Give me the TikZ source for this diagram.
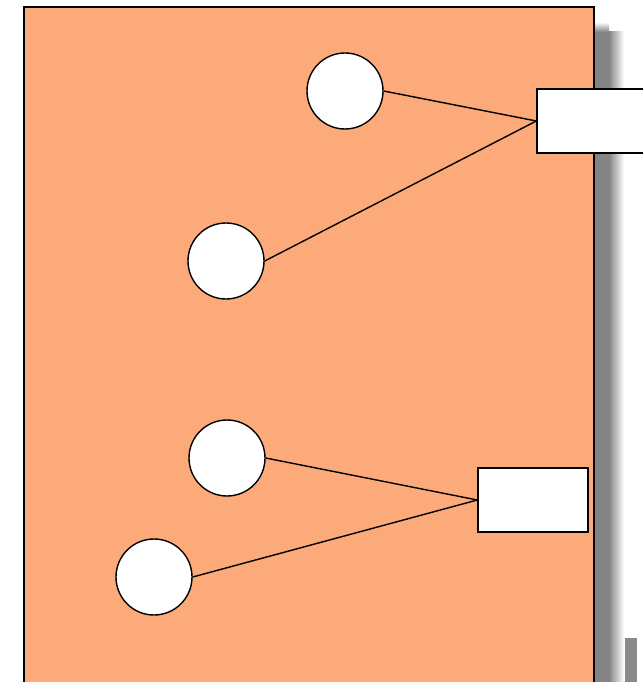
\documentclass[tikz,border=0pt]{standalone}
\usetikzlibrary{calc}
\definecolor{panel}{RGB}{252,170,122}
\definecolor{shadowgray}{RGB}{132,132,132}
\tikzset{
  px/.style={x=1pt,y=-1pt},
  ball/.style={circle,draw=black,fill=white,line width=1.4pt,minimum size=76pt,inner sep=0pt},
  port/.style={rectangle,draw=black,fill=white,line width=1.4pt,inner sep=0pt},
  link/.style={draw=black,line width=1.4pt},
}
\begin{document}
\begin{tikzpicture}[px]
\useasboundingbox (0,0) rectangle (642,682);
\fill[white] (0,0) rectangle (642,682);
% shadow
\fill[shadowgray] (594,32) rectangle (609,700);
\shade[left color=shadowgray,right color=white] (609,32) rectangle (624,700);
\shade[top color=white,bottom color=shadowgray] (594,22) rectangle (609,32);
\fill[shadowgray!95] (625,638) rectangle (637,700);
% panel
\filldraw[fill=panel,draw=black,line width=1.4pt] (24,7) rectangle (594,700);
% nodes
\node[ball] (c1) at (345,91) {};
\node[ball] (c2) at (226,261) {};
\node[ball] (c3) at (227,458) {};
\node[ball] (c4) at (154,577) {};
\node[port,minimum width=120pt,minimum height=64pt] (b1) at (597,121) {};
\node[port,minimum width=110pt,minimum height=64pt] (b2) at (533,500) {};
% links
\draw[link] (c1.east) -- (b1.west);
\draw[link] (c2.east) -- (b1.west);
\draw[link] (c3.east) -- (b2.west);
\draw[link] (c4.east) -- (b2.west);
\end{tikzpicture}
\end{document}
